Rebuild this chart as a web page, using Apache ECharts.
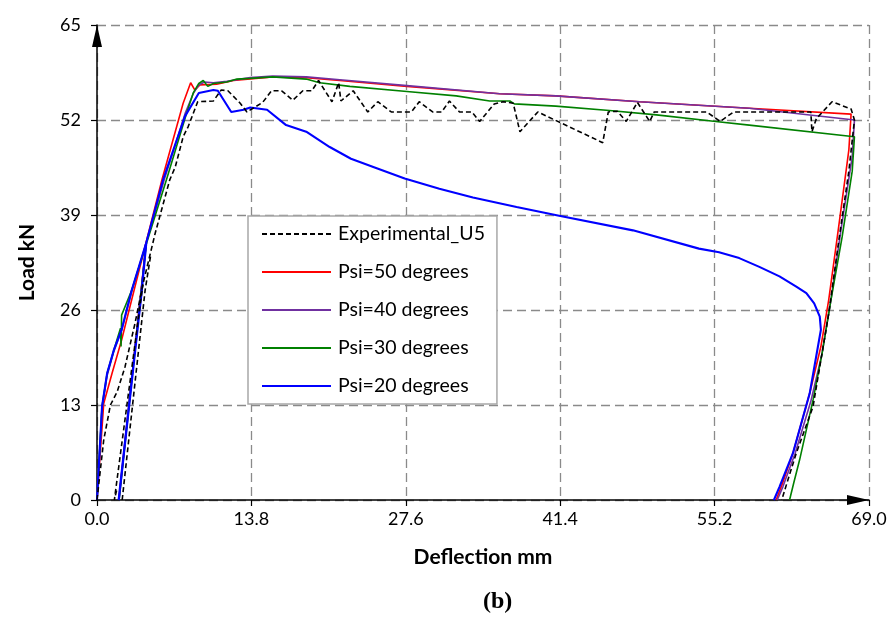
<!DOCTYPE html>
<html>
<head>
<meta charset="utf-8">
<script src="https://cdn.jsdelivr.net/npm/echarts@6/dist/echarts.min.js"></script>
<style>
html,body{margin:0;padding:0;background:#fff;}
#chart{width:890px;height:617px;}
</style>
</head>
<body>
<div id="chart"></div>
<script>
// ---- Data (Deflection mm, Load kN) ----
var xTicks = [0, 13.8, 27.6, 41.4, 55.2, 69.0];
var yTicks = [0, 13, 26, 39, 52, 65];
var seriesNames = ['Experimental_U5', 'Psi=50 degrees', 'Psi=40 degrees', 'Psi=30 degrees', 'Psi=20 degrees'];

var experimental = [[0,0],[0.6,8.2],[1.2,13],[1.8,14.8],[2.5,18.2],[3.4,24.2],[4.1,29.5],[5.2,36.5],[6.5,43.8],[7.0,45.6],[7.7,49.7],[8.15,51.1],[9.0,54.5],[10.4,54.6],[11.1,56.1],[11.7,56],[12.8,54.3],[13.4,53.1],[14.8,54.4],[15.6,56],[16.5,56],[17.5,54.7],[18.4,56],[19.2,56],[19.8,57.4],[21,54.5],[21.6,57.1],[21.8,54.6],[22.9,56],[24.2,53.1],[25.1,54.5],[26.3,53.1],[28.1,53.1],[28.8,54.5],[30,53.1],[30.8,53.1],[31.5,54.6],[32.4,53.1],[33.5,53.1],[34.2,51.8],[35.5,54.2],[36.3,54.5],[37.2,54.3],[37.8,50.4],[39.4,53.1],[45.2,48.9],[45.7,53.1],[46.5,53.2],[47.3,51.8],[48.3,54.4],[49.4,51.8],[49.8,53.1],[54.5,53.1],[55.7,51.8],[56.9,53.1],[63.8,53.1],[63.9,50.4],[64.3,52.2],[65.7,54.5],[67.4,53.5],[67.7,52],[67.2,45],[66.3,35.5],[65.4,25.5],[64.0,12.8],[62.5,6.4],[61.7,2.5],[61.2,0]];
var experimentalBranch = [[1.75,1.3],[1.55,0],[4.1,29.5]];
var experimentalBranch2 = [[2.25,0],[4.3,28.7],[4.8,33.5]];

var psi50 = [[0,0],[0.6,13.2],[1.34,17.3],[2.2,21.9],[3.1,27.4],[4.4,35.3],[5.8,43.8],[7.7,54.3],[8.37,57.1],[8.75,56.1],[9.2,56.8],[10.7,56.9],[12.2,57.4],[13.7,57.6],[15.7,57.9],[18.7,57.8],[21.7,57.4],[27.7,56.6],[36,55.6],[41,55.3],[48.5,54.5],[58.3,53.6],[67.4,52.8],[67.2,47.9],[66.3,37.5],[65.4,27.4],[64.7,21],[63.7,14.6],[62.2,6.4],[61.2,2],[60.7,0]];
var psi50Branch = [[1.95,0],[4.4,35.3]];

var psi40 = [[0,0],[0.45,12.5],[0.9,17],[1.5,20.3],[2.2,23.2],[3.1,28.5],[4.4,35.2],[6.0,43.8],[7.9,53],[8.6,55.6],[9.1,56.8],[9.6,57.2],[10.4,57.1],[11.6,57.3],[13.7,57.8],[15.7,58],[18.7,57.9],[21.7,57.5],[27.7,56.7],[36,55.6],[41,55.3],[48.5,54.5],[58.3,53.6],[67.7,52],[67.5,47],[66.5,37],[65.6,27.4],[64.8,20],[63.8,13.5],[62.4,6.4],[61.3,1.8],[60.8,0]];
var psi40Branch = [[1.95,0],[4.4,35.2]];

var psi30 = [[0,0],[0.45,12.8],[0.9,17.3],[1.5,20.5],[2.1,23.5],[2.15,21],[2.2,25.3],[3.1,28.7],[4.4,35],[6.2,43.8],[8.0,52.9],[8.6,55.7],[9.1,57],[9.5,57.4],[9.9,56.6],[10.4,57],[11.6,57.2],[12.5,57.6],[13.7,57.7],[15.7,57.9],[18.7,57.6],[19.9,57.1],[22.6,56.6],[27.7,55.9],[32.1,55.3],[35.1,54.6],[36.9,54.6],[37.3,54.2],[41,53.9],[45.8,53.3],[50,52.7],[55.3,51.8],[58.3,51.3],[67.7,49.7],[67.5,45],[66.6,36],[65.6,27.4],[64.8,20],[64.0,13.7],[62.8,5.5],[62.3,2.5],[61.9,0]];
var psi30Branch = [[1.97,0],[4.4,35]];

var psi20 = [[0,0],[0.45,12.8],[0.9,17.3],[1.5,20.5],[2.2,23.3],[3.1,28.7],[4.4,35.2],[5.9,43.8],[7.86,52.5],[9.1,55.7],[10.4,56.1],[10.8,56],[12.0,53.1],[13.1,53.4],[13.7,53.7],[15.2,53.4],[16.9,51.3],[18.7,50.4],[20.8,48.3],[22.7,46.7],[25,45.4],[27.5,44],[30.6,42.6],[33.6,41.4],[37.5,40.1],[41.3,38.9],[47.9,36.9],[53.8,34.4],[55.6,33.9],[57.4,33.1],[59.2,31.9],[61,30.6],[62.5,29.2],[63.4,28.3],[64.1,26.9],[64.6,25.1],[64.7,23.3],[63.7,14.6],[62.2,6.4],[61.0,1.8],[60.5,0]];
var psi20Branch = [[1.94,0],[4.0,28.7],[4.4,35.2]];

var colors = {exp:'#000000', p50:'#ff0000', p40:'#7030a0', p30:'#008000', p20:'#0000ff'};

function lineSeries(name, data, color, width, dashed, z) {
  return {
    name: name, type: 'line', data: data, symbol: 'none', showSymbol: false,
    smooth: false, z: z, animation: false, silent: true,
    lineStyle: {color: color, width: width, type: dashed ? [5, 3] : 'solid'},
    itemStyle: {color: color}
  };
}

var chart = echarts.init(document.getElementById('chart'), null, {renderer: 'canvas'});
var gridColor = '#8a8a8a';
var option = {
  animation: false,
  backgroundColor: '#ffffff',
  grid: {left: 97, right: 21, top: 25, bottom: 117, containLabel: false},
  xAxis: {
    type: 'value', min: xTicks[0], max: xTicks[xTicks.length - 1], interval: 13.8,
    name: 'Deflection mm', nameLocation: 'middle', nameGap: 47,
    nameTextStyle: {fontFamily: 'Lato', fontWeight: 'bold', fontSize: 21, color: '#000'},
    axisLine: {show: true, onZero: false, lineStyle: {color: '#000', width: 1.5},
      symbol: ['none', 'triangle'], symbolSize: [10, 22], symbolOffset: [0, -11]},
    axisTick: {show: true, length: 6, lineStyle: {color: '#000', width: 1.2}},
    axisLabel: {fontFamily: 'Lato', fontSize: 18, color: '#000', margin: 10,
      formatter: function (v) { return (+v).toFixed(1); }},
    splitLine: {show: true, lineStyle: {color: gridColor, type: [9, 5], width: 1.3}}
  },
  yAxis: {
    type: 'value', min: yTicks[0], max: yTicks[yTicks.length - 1], interval: 13,
    name: 'Load kN', nameLocation: 'middle', nameGap: 59, nameRotate: 90,
    nameTextStyle: {fontFamily: 'Lato', fontWeight: 'bold', fontSize: 21, color: '#000'},
    axisLine: {show: true, onZero: false, lineStyle: {color: '#000', width: 1.5},
      symbol: ['none', 'triangle'], symbolSize: [10, 22], symbolOffset: [0, -11]},
    axisTick: {show: true, length: 6, lineStyle: {color: '#000', width: 1.2}},
    axisLabel: {fontFamily: 'Lato', fontSize: 18, color: '#000', margin: 16},
    splitLine: {show: true, lineStyle: {color: gridColor, type: [9, 5], width: 1.3}}
  },
  legend: {
    data: seriesNames,
    orient: 'vertical', left: 248, top: 216,
    backgroundColor: '#ffffff', borderColor: '#a8a8a8', borderWidth: 1.5,
    padding: [7, 12, 7, 13], itemGap: 16, itemWidth: 69, itemHeight: 14,
    itemStyle: {opacity: 0},
    textStyle: {fontFamily: 'Lato', fontSize: 19.5, color: '#000', lineHeight: 22, padding: [0, 0, 0, 2]},
    selectedMode: false
  },
  graphic: [{
    type: 'text', left: 483, top: 590,
    style: {text: '(b)', font: 'bold 24px "Liberation Serif"', fill: '#000', textAlign: 'center'}
  }],
  series: [
    lineSeries(seriesNames[1], psi50, colors.p50, 1.6, false, 2),
    lineSeries('p50b', psi50Branch, colors.p50, 1.6, false, 2),
    lineSeries(seriesNames[2], psi40, colors.p40, 1.6, false, 3),
    lineSeries('p40b', psi40Branch, colors.p40, 1.6, false, 3),
    lineSeries(seriesNames[3], psi30, colors.p30, 1.6, false, 4),
    lineSeries('p30b', psi30Branch, colors.p30, 1.6, false, 4),
    lineSeries(seriesNames[4], psi20, colors.p20, 2.1, false, 5),
    lineSeries('p20b', psi20Branch, colors.p20, 2.3, false, 5),
    lineSeries(seriesNames[0], experimental, colors.exp, 1.6, true, 6),
    lineSeries('expb', experimentalBranch, colors.exp, 1.6, true, 6),
    lineSeries('expb2', experimentalBranch2, colors.exp, 1.6, true, 6)
  ]
};
chart.setOption(option);
</script>
</body>
</html>
